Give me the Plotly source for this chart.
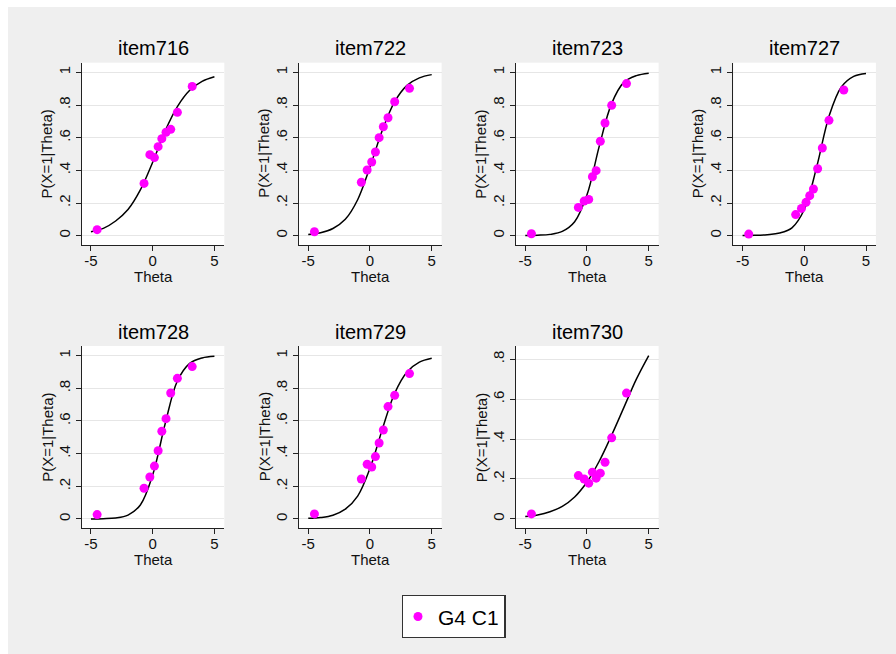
import plotly.graph_objects as go

W, H = 896, 654

items = ["item716", "item722", "item723", "item727", "item728", "item729", "item730"]

# Observed proportions (G4 C1) at the group theta locations
theta_obs = [-4.5, -0.7, -0.23, 0.14, 0.44, 0.74, 1.08, 1.46, 2.0, 3.2]
obs_716 = [0.037, 0.320, 0.496, 0.478, 0.545, 0.594, 0.633, 0.651, 0.755, 0.914]
obs_722 = [0.024, 0.327, 0.402, 0.451, 0.512, 0.600, 0.667, 0.722, 0.820, 0.902]
obs_723 = [0.012, 0.173, 0.212, 0.222, 0.361, 0.398, 0.578, 0.690, 0.798, 0.931]
obs_727 = [0.010, 0.129, 0.167, 0.204, 0.245, 0.286, 0.410, 0.537, 0.706, 0.892]
obs_728 = [0.027, 0.188, 0.257, 0.324, 0.418, 0.537, 0.614, 0.771, 0.861, 0.933]
obs_729 = [0.031, 0.245, 0.335, 0.318, 0.382, 0.465, 0.545, 0.688, 0.757, 0.890]
obs_730 = [0.025, 0.217, 0.200, 0.179, 0.234, 0.204, 0.229, 0.284, 0.406, 0.630]

# Model item characteristic curves
theta_grid = [-5, -4, -3, -2, -1, 0, 1, 2, 3, 4, 5]
icc_716 = [0.024, 0.045, 0.090, 0.160, 0.280, 0.450, 0.640, 0.790, 0.890, 0.945, 0.973]
icc_722 = [0.007, 0.018, 0.044, 0.100, 0.220, 0.420, 0.645, 0.820, 0.920, 0.966, 0.986]
icc_723 = [0.001, 0.003, 0.008, 0.026, 0.085, 0.250, 0.550, 0.810, 0.940, 0.980, 0.995]
icc_727 = [0.001, 0.002, 0.006, 0.016, 0.048, 0.160, 0.420, 0.730, 0.910, 0.975, 0.993]
icc_728 = [0.0005, 0.002, 0.006, 0.024, 0.086, 0.270, 0.580, 0.845, 0.953, 0.986, 0.996]
icc_729 = [0.004, 0.009, 0.023, 0.060, 0.140, 0.310, 0.550, 0.770, 0.900, 0.960, 0.984]
icc_730 = [0.012, 0.020, 0.036, 0.063, 0.110, 0.185, 0.290, 0.420, 0.560, 0.700, 0.818]

observed = [obs_716, obs_722, obs_723, obs_727, obs_728, obs_729, obs_730]
curves = [icc_716, icc_722, icc_723, icc_727, icc_728, icc_729, icc_730]

y_ticks_full = [0, 0.2, 0.4, 0.6, 0.8, 1]
y_ticks_short = [0, 0.2, 0.4, 0.6, 0.8]
y_labels_full = ["0", ".2", ".4", ".6", ".8", "1"]
y_labels_short = ["0", ".2", ".4", ".6", ".8"]
x_ticks = [-5, 0, 5]
x_labels = ["-5", "0", "5"]

FONT = "Arial, Liberation Sans, sans-serif"
MAGENTA = "#ff00ff"
AXIS = "#222222"
TEXT = "#111111"

# Panel placement in pixels
col_left = [81.7, 299.0, 516.0, 733.3]
row_top = [62.7, 346.0]
pw, ph = 142.6, 182.3
title_mid = [48.5, 332.0]

fig = go.Figure()
layout = {}
annotations = []


def px_x(v):
    return v / W


def px_y(v):
    return 1 - v / H


for i, name in enumerate(items):
    r, c = divmod(i, 4)
    n = i + 1
    xa = "x" if n == 1 else f"x{n}"
    ya = "y" if n == 1 else f"y{n}"
    left, top = col_left[c], row_top[r]

    fig.add_trace(go.Scatter(
        x=theta_grid, y=curves[i], mode="lines",
        line=dict(color="black", width=1.5, shape="spline"),
        xaxis=xa, yaxis=ya, showlegend=False, hoverinfo="skip"))
    fig.add_trace(go.Scatter(
        x=theta_obs, y=observed[i], mode="markers",
        marker=dict(color=MAGENTA, size=9, line=dict(width=0)),
        xaxis=xa, yaxis=ya, name="G4 C1", showlegend=(i == 0)))

    short = name == "item730"
    yrange = [-0.047, 0.866] if short else [-0.057, 1.059]

    layout["xaxis" if n == 1 else f"xaxis{n}"] = dict(
        domain=[px_x(left), px_x(left + pw)], anchor=ya, range=[-5.75, 5.8],
        tickvals=x_ticks, ticktext=x_labels, showgrid=False, zeroline=False,
        showline=True, linecolor=AXIS, linewidth=1.3,
        ticks="outside", ticklen=5, tickcolor=AXIS, tickwidth=1.3,
        ticklabelstandoff=-3,
        tickfont=dict(family=FONT, size=15, color=TEXT),
        fixedrange=True)
    layout["yaxis" if n == 1 else f"yaxis{n}"] = dict(
        domain=[px_y(top + ph), px_y(top)], anchor=xa, range=yrange,
        tickvals=y_ticks_short if short else y_ticks_full,
        ticktext=y_labels_short if short else y_labels_full,
        tickangle=-90, showgrid=True, gridcolor="#e6e6e6", gridwidth=1.3, zeroline=False,
        showline=True, linecolor=AXIS, linewidth=1.3,
        ticks="outside", ticklen=5, tickcolor=AXIS, tickwidth=1.3,
        tickfont=dict(family=FONT, size=15, color=TEXT),
        fixedrange=True)

    # panel title
    annotations.append(dict(
        text=name, xref="paper", yref="paper",
        x=px_x(left + pw / 2), y=px_y(title_mid[r]),
        xanchor="center", yanchor="middle", showarrow=False,
        font=dict(family=FONT, size=20, color="black", weight="normal")))
    # x axis title
    annotations.append(dict(
        text="Theta", xref="paper", yref="paper",
        x=px_x(left + pw / 2), y=px_y(top + ph + 31),
        xanchor="center", yanchor="middle", showarrow=False,
        font=dict(family=FONT, size=15, color=TEXT)))
    # y axis title
    annotations.append(dict(
        text="P(X=1|Theta)", xref="paper", yref="paper", textangle=-90,
        x=px_x(left - 35), y=px_y(top + ph / 2),
        xanchor="center", yanchor="middle", showarrow=False,
        font=dict(family=FONT, size=15, color=TEXT)))

fig.update_layout(
    width=W, height=H,
    margin=dict(l=0, r=0, t=0, b=0),
    paper_bgcolor="#efefef",
    plot_bgcolor="white",
    font=dict(family=FONT, color="black"),
    annotations=annotations,
    shapes=[
        dict(type="rect", xref="paper", yref="paper", x0=0, x1=1, y0=px_y(7), y1=1,
             fillcolor="white", line=dict(width=0), layer="below"),
        dict(type="rect", xref="paper", yref="paper", x0=0, x1=px_x(8), y0=0, y1=1,
             fillcolor="white", line=dict(width=0), layer="below"),
    ],
    legend=dict(
        x=px_x(401.7), y=px_y(595), xanchor="left", yanchor="top",
        bgcolor="white", bordercolor="#333", borderwidth=1.3,
        font=dict(family=FONT, size=21, color="black"),
        itemwidth=30, indentation=-5),
    **layout,
)

fig.write_html("out.html")
